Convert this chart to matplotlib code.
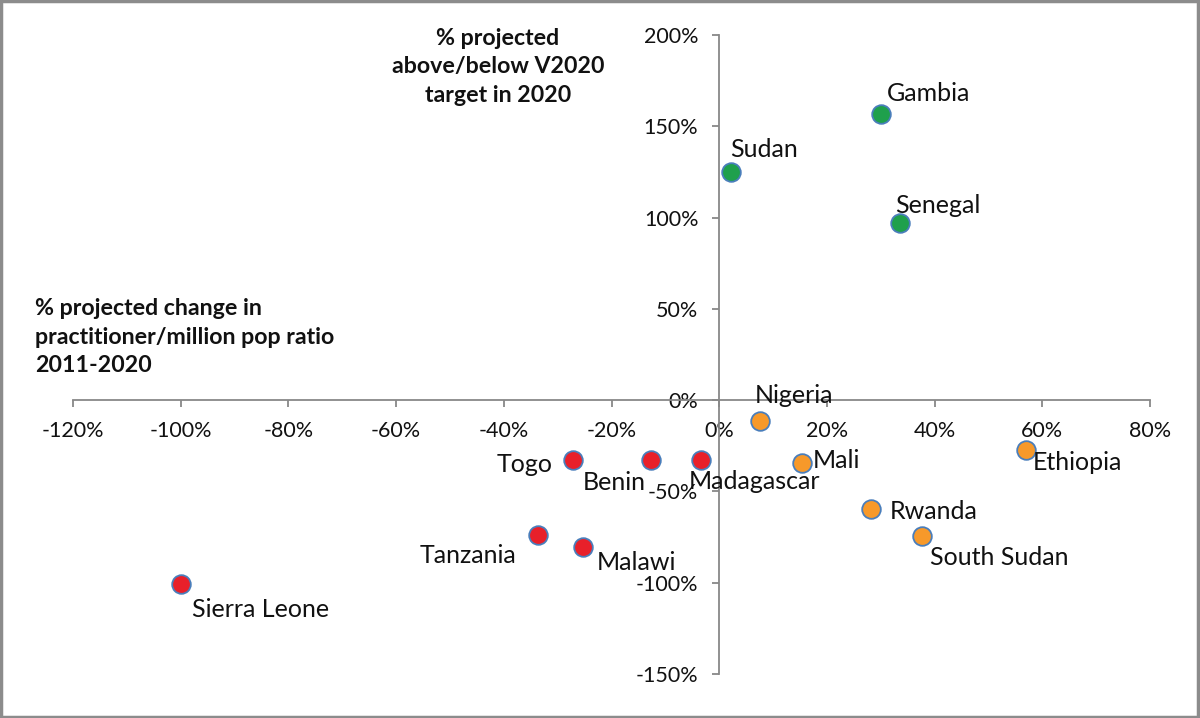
import matplotlib
matplotlib.use('Agg')
import matplotlib.pyplot as plt
from matplotlib.ticker import FuncFormatter, MultipleLocator
from matplotlib.patches import Rectangle

plt.rcParams['font.family'] = ['Lato', 'DejaVu Sans']
plt.rcParams['axes.unicode_minus'] = False

# data (% values)
countries = ['Gambia', 'Sudan', 'Senegal',
             'Nigeria', 'Mali', 'Ethiopia', 'Rwanda', 'South Sudan',
             'Togo', 'Benin', 'Madagascar', 'Tanzania', 'Malawi', 'Sierra Leone']
change_ratio = [30.0, 2.2, 33.6,
                7.6, 15.4, 57.0, 28.2, 37.7,
                -27.1, -12.6, -3.3, -33.6, -25.3, -99.9]
above_target = [156.5, 125.0, 97.0,
                -11.5, -34.5, -27.4, -59.7, -74.5,
                -33.0, -33.0, -33.0, -73.9, -80.5, -100.8]
groups = ['green'] * 3 + ['orange'] * 5 + ['red'] * 6

fill = {'green': '#1fa04c', 'orange': '#f7992a', 'red': '#e8202a'}

# label offsets in pixels (dx, dy, ha)
offsets = {
    'Gambia': (6, 21, 'left'), 'Sudan': (-1, 22, 'left'), 'Senegal': (-5, 18, 'left'),
    'Nigeria': (-5, 26, 'left'), 'Mali': (11, 3, 'left'), 'Ethiopia': (7, -12, 'left'),
    'Rwanda': (19, -2, 'left'), 'South Sudan': (8, -21, 'left'),
    'Togo': (-21, -4, 'right'), 'Benin': (-6, -22, 'right'), 'Madagascar': (-13, -21, 'left'),
    'Tanzania': (-22, -20, 'right'), 'Malawi': (14, -15, 'left'), 'Sierra Leone': (11, -25, 'left'),
}

fig = plt.figure(figsize=(12, 7.18), dpi=100)
ax = fig.add_axes([73/1200, 44/718, 1077/1200, 639/718])

for c, x, y, g in zip(countries, change_ratio, above_target, groups):
    ax.scatter(x, y, s=180, color=fill[g], edgecolor='#4a7ebb', linewidth=1.3, zorder=3)
    dx, dy, ha = offsets[c]
    ax.annotate(c, (x, y), xytext=(dx, dy), textcoords='offset pixels',
                ha=ha, va='center', fontsize=18, color='#111111')

ax.set_xlim(-120, 80)
ax.set_ylim(-150, 200)
ax.xaxis.set_major_locator(MultipleLocator(20))
ax.yaxis.set_major_locator(MultipleLocator(50))
pct = FuncFormatter(lambda v, p: '%d%%' % round(v))
ax.xaxis.set_major_formatter(pct)
ax.yaxis.set_major_formatter(pct)

ax.spines['left'].set_position(('data', 0))
ax.spines['bottom'].set_position(('data', 0))
ax.spines['top'].set_visible(False)
ax.spines['right'].set_visible(False)
for s in ['left', 'bottom']:
    ax.spines[s].set_color('#888888')
    ax.spines[s].set_linewidth(1.3)
ax.tick_params(colors='#888888', length=5, width=1.3, labelcolor='#111111',
               labelsize=15.5, pad=10)
ax.patch.set_alpha(0)

fig.text(498/1200, 1 - 67/718, '% projected\nabove/below V2020\ntarget in 2020',
         ha='center', va='center', fontsize=16.7, fontweight='bold',
         linespacing=1.45, color='#111111')
fig.text(35/1200, 1 - 337/718, '% projected change in\npractitioner/million pop ratio\n2011-2020',
         ha='left', va='center', fontsize=16.7, fontweight='bold',
         linespacing=1.45, color='#111111')

fig.patches.append(Rectangle((0.001, 0.002), 0.997, 0.996, transform=fig.transFigure,
                             fill=False, edgecolor='#8c8c8c', linewidth=2.5))

fig.savefig('out.png', dpi=100)
